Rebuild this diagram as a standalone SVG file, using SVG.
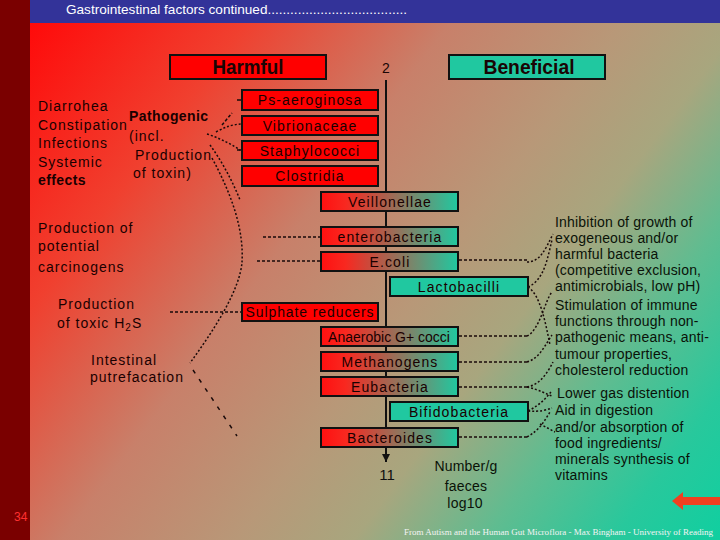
<svg xmlns="http://www.w3.org/2000/svg" width="720" height="540" viewBox="0 0 720 540">
<defs>
<linearGradient id="bg" gradientUnits="userSpaceOnUse" x1="30" y1="23" x2="720" y2="540">
<stop offset="0" stop-color="#ff0a0a"/>
<stop offset="0.2" stop-color="#f0402f"/>
<stop offset="0.39" stop-color="#c8806a"/>
<stop offset="0.55" stop-color="#b89878"/>
<stop offset="0.66" stop-color="#a8a67e"/>
<stop offset="0.78" stop-color="#60bc90"/>
<stop offset="0.9" stop-color="#28c89c"/>
<stop offset="1" stop-color="#10cfa0"/>
</linearGradient>
<linearGradient id="boxg" x1="0" y1="0" x2="1" y2="0">
<stop offset="0" stop-color="#ff1010"/>
<stop offset="0.18" stop-color="#f82820"/>
<stop offset="1" stop-color="#20c8a0"/>
</linearGradient>
<marker id="ah" viewBox="0 0 10 10" refX="10" refY="5" markerWidth="8" markerHeight="8" markerUnits="userSpaceOnUse" orient="auto">
<path d="M0,0 L10,5 L0,10 Z" fill="#111"/>
</marker>
<style>
.box{stroke:#111;stroke-width:2}
.red{fill:#ff0000}
.grad{fill:url(#boxg)}
.teal{fill:#20c8a0}
.hd{font-family:'Liberation Sans',Arial,sans-serif;font-weight:bold;font-size:20px;text-anchor:middle;fill:#1a0505}
.bl{font-family:'Liberation Sans',Arial,sans-serif;font-size:14px;letter-spacing:1.1px;text-anchor:middle;fill:#1a0000}
.lt{font-family:'Liberation Sans',Arial,sans-serif;font-size:14px;letter-spacing:1px;fill:#1a0000}
.rt{font-family:'Liberation Sans',Arial,sans-serif;font-size:14px;letter-spacing:0.2px;fill:#0a1208}
.b{font-weight:bold;letter-spacing:0.4px}
.dot{fill:none;stroke:#1a0a0a;stroke-width:1.5;stroke-dasharray:2 2}
.dash{fill:none;stroke:#1a0a0a;stroke-width:1.5;stroke-dasharray:3 2}
.sp{fill:none;stroke:#1a0a0a;stroke-width:1.5;stroke-dasharray:4 7}
</style>
</defs>

<!-- background -->
<rect x="0" y="0" width="720" height="540" fill="url(#bg)"/>
<rect x="0" y="0" width="30" height="540" fill="#7a0000"/>
<rect x="30" y="0" width="690" height="23" fill="#333399"/>
<text x="66" y="14" font-family="'Liberation Sans',Arial,sans-serif" font-size="13" fill="#ffffff" textLength="341" lengthAdjust="spacingAndGlyphs">Gastrointestinal factors continued.....................................</text>

<!-- headers -->
<g id="harmful">
<rect class="box red" x="170" y="55" width="156" height="24"/>
<text class="hd" x="248" y="74" textLength="71" lengthAdjust="spacingAndGlyphs">Harmful</text>
</g>
<g id="beneficial">
<rect class="box teal" x="449" y="55" width="156" height="24"/>
<text class="hd" x="529" y="74" textLength="91" lengthAdjust="spacingAndGlyphs">Beneficial</text>
</g>

<!-- axis -->
<g id="axis">
<text x="386" y="73" font-family="'Liberation Sans',Arial,sans-serif" font-size="14" text-anchor="middle" fill="#1a0505">2</text>
<line x1="386" y1="80" x2="386" y2="462" stroke="#111" stroke-width="2" marker-end="url(#ah)"/>
<text x="387" y="480" font-family="'Liberation Sans',Arial,sans-serif" font-size="15" text-anchor="middle" fill="#111">11</text>
</g>

<!-- connectors -->
<g id="connectors">
<path d="M237,100 H242 M237,150 H242" stroke="#1a0a0a" stroke-width="1.5" fill="none"/>
<path class="dash" d="M222,125 L232,113"/>
<path class="dot" d="M216,132 Q230,124 242,124"/>
<path class="dot" d="M207,134 Q225,140 240,150"/>
<path class="dot" d="M210,145 Q228,170 240,200"/>
<path class="dot" d="M212,158 C232,195 244,230 242,262 C240,290 214,330 190,363"/>
<path class="sp" d="M193,370 L237,436"/>
<path class="dash" d="M263,237 H320"/>
<path class="dash" d="M257,261 H320"/>
<path class="dash" d="M170,312 H242"/>

<path class="dash" d="M459,260 H527"/>
<path class="dot" d="M527,262 C540,262 545,250 553,234"/>
<path class="dot" d="M528,287 C545,280 548,255 552,240"/>
<path class="dot" d="M528,287 C540,295 545,320 550,345"/>
<path class="dash" d="M459,336 H527"/>
<path class="dot" d="M527,336 C540,330 545,300 552,292"/>
<path class="dash" d="M459,362 H527"/>
<path class="dot" d="M527,362 C540,358 545,345 552,335"/>
<path class="dash" d="M459,387 H527"/>
<path class="dot" d="M527,387 C540,385 548,372 553,362"/>
<path class="dot" d="M527,387 C540,390 546,394 552,396"/>
<path class="dot" d="M528,411 C540,405 546,398 551,392"/>
<path class="dot" d="M528,411 C540,412 546,410 552,408"/>
<path class="dash" d="M459,437 H527"/>
<path class="dot" d="M527,437 C540,430 545,420 550,412"/>
<path class="dot" d="M540,424 L555,432"/>
</g>

<!-- bacteria boxes -->
<g id="ps-aeroginosa"><rect class="box red" x="242" y="90" width="136" height="20"/><text class="bl" x="310" y="105">Ps-aeroginosa</text></g>
<g id="vibrionaceae"><rect class="box red" x="242" y="116" width="136" height="19"/><text class="bl" x="310" y="130.5">Vibrionaceae</text></g>
<g id="staphylococci"><rect class="box red" x="242" y="141" width="136" height="19"/><text class="bl" x="310" y="155.5">Staphylococci</text></g>
<g id="clostridia"><rect class="box red" x="242" y="166" width="136" height="20"/><text class="bl" x="310" y="181">Clostridia</text></g>
<g id="veillonellae"><rect class="box grad" x="321" y="192" width="137" height="19"/><text class="bl" x="390" y="206.5">Veillonellae</text></g>
<g id="enterobacteria"><rect class="box grad" x="321" y="227" width="137" height="19"/><text class="bl" x="390" y="241.5">enterobacteria</text></g>
<g id="ecoli"><rect class="box grad" x="321" y="252" width="137" height="19"/><text class="bl" x="390" y="266.5">E.coli</text></g>
<g id="lactobacilli"><rect class="box teal" x="390" y="277" width="138" height="19"/><text class="bl" x="459" y="291.5">Lactobacilli</text></g>
<g id="sulphate-reducers"><rect class="box red" x="242" y="303" width="136" height="18"/><text class="bl" x="310" y="317" style="letter-spacing:0.9px">Sulphate reducers</text></g>
<g id="anaerobic-cocci"><rect class="box grad" x="321" y="327" width="137" height="19"/><text class="bl" x="389" y="341.5" style="letter-spacing:0px">Anaerobic G+ cocci</text></g>
<g id="methanogens"><rect class="box grad" x="321" y="352" width="137" height="19"/><text class="bl" x="390" y="366.5">Methanogens</text></g>
<g id="eubacteria"><rect class="box grad" x="321" y="377" width="137" height="19"/><text class="bl" x="390" y="391.5">Eubacteria</text></g>
<g id="bifidobacteria"><rect class="box teal" x="390" y="402" width="138" height="19"/><text class="bl" x="459" y="416.5">Bifidobacteria</text></g>
<g id="bacteroides"><rect class="box grad" x="321" y="428" width="137" height="19"/><text class="bl" x="390" y="442.5">Bacteroides</text></g>

<!-- harmful effects -->
<g id="symptoms">
<text class="lt" x="38" y="111">Diarrohea</text>
<text class="lt" x="38" y="130">Constipation</text>
<text class="lt" x="38" y="148">Infections</text>
<text class="lt" x="38" y="167">Systemic</text>
<text class="lt b" x="38" y="185">effects</text>
</g>
<g id="pathogenic">
<text class="lt b" x="129" y="121">Pathogenic</text>
<text class="lt" x="129" y="141">(incl.</text>
<text class="lt" x="135" y="160">Production</text>
<text class="lt" x="133" y="178">of toxin)</text>
</g>
<g id="carcinogens">
<text class="lt" x="38" y="233">Production of</text>
<text class="lt" x="38" y="251">potential</text>
<text class="lt" x="38" y="272">carcinogens</text>
</g>
<g id="h2s">
<text class="lt" x="58" y="309">Production</text>
<text class="lt" x="57" y="328">of toxic H<tspan font-size="10" dy="3">2</tspan><tspan dy="-3">S</tspan></text>
</g>
<g id="putrefaction">
<text class="lt" x="91" y="365">Intestinal</text>
<text class="lt" x="90" y="382">putrefacation</text>
</g>

<!-- beneficial effects -->
<g id="inhibition">
<text class="rt" x="555" y="227">Inhibition of growth of</text>
<text class="rt" x="555" y="243">exogeneous and/or</text>
<text class="rt" x="555" y="259">harmful bacteria</text>
<text class="rt" x="555" y="275">(competitive exclusion,</text>
<text class="rt" x="555" y="291">antimicrobials, low pH)</text>
</g>
<g id="stimulation">
<text class="rt" x="555" y="310">Stimulation of immune</text>
<text class="rt" x="555" y="326">functions through non-</text>
<text class="rt" x="555" y="342">pathogenic means, anti-</text>
<text class="rt" x="555" y="359">tumour properties,</text>
<text class="rt" x="555" y="375">cholesterol reduction</text>
</g>
<g id="digestion">
<text class="rt" x="557" y="398">Lower gas distention</text>
<text class="rt" x="555" y="415">Aid in digestion</text>
<text class="rt" x="555" y="432">and/or absorption of</text>
<text class="rt" x="555" y="448">food ingredients/</text>
<text class="rt" x="555" y="464">minerals synthesis of</text>
<text class="rt" x="555" y="480">vitamins</text>
</g>

<g id="units">
<text class="rt" x="466" y="471" text-anchor="middle">Number/g</text>
<text class="rt" x="466" y="491" text-anchor="middle">faeces</text>
<text class="rt" x="465" y="508" text-anchor="middle">log10</text>
</g>

<!-- footer -->
<text x="14" y="521" font-family="'Liberation Sans',Arial,sans-serif" font-size="12" fill="#ff3030">34</text>
<polygon points="672,501 683,492 683,497 720,497 720,505 683,505 683,510" fill="#f04020"/>
<text x="404" y="535" font-family="'Liberation Serif','Times New Roman',serif" font-size="9" fill="#f4f4f4" textLength="309" lengthAdjust="spacingAndGlyphs">From Autism and the Human Gut Microflora - Max Bingham - University of Reading</text>
</svg>
